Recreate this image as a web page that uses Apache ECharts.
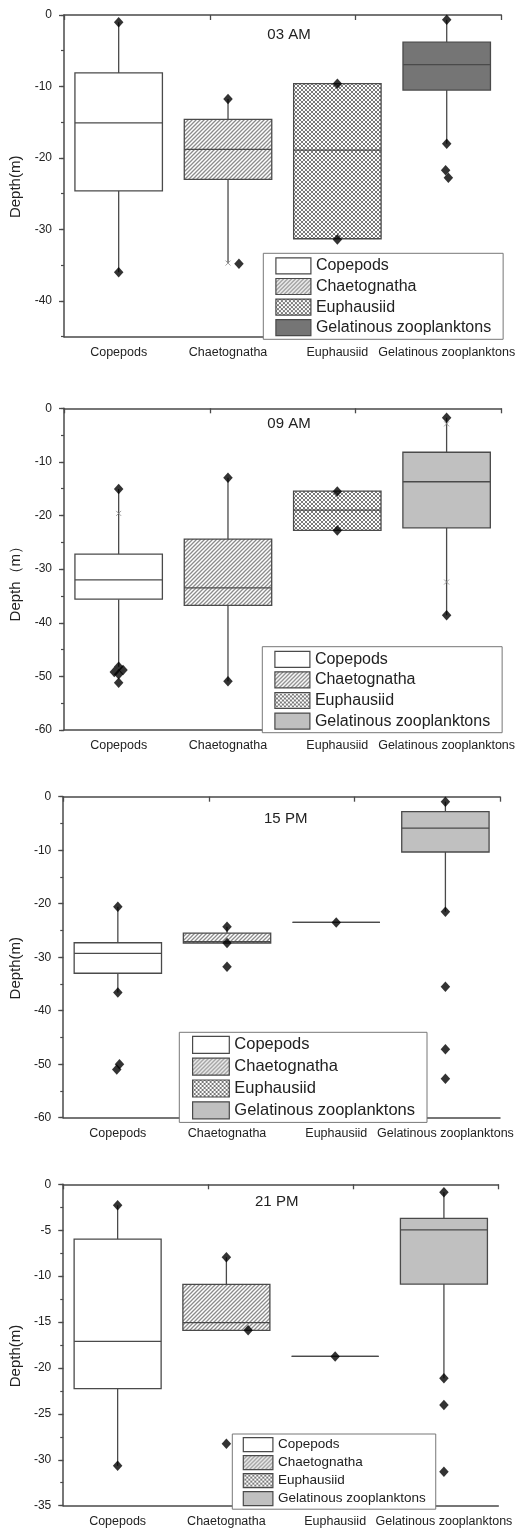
<!DOCTYPE html>
<html>
<head>
<meta charset="utf-8">
<script src="https://cdn.jsdelivr.net/npm/echarts@6/dist/echarts.min.js"></script>
<style>
  html, body { margin: 0; padding: 0; background: #fff; }
  #chart { width: 518px; height: 1531px; }
</style>
</head>
<body>
<div id="chart"></div>
<script>
const categories = ['Copepods', 'Chaetognatha', 'Euphausiid', 'Gelatinous zooplanktons'];
const panelTitles = ['03 AM', '09 AM', '15 PM', '21 PM'];
const yNames = ['Depth(m)', 'Depth\uff08m\uff09', 'Depth(m)', 'Depth(m)'];
const yMin = [-45, -60, -60, -35];
const yMinorStep = [5, 5, 5, 2.5];

// labelled y ticks for each panel
const yTicks03 = [0, -10, -20, -30, -40];
const yTicks09 = [0, -10, -20, -30, -40, -50, -60];
const yTicks15 = [0, -10, -20, -30, -40, -50, -60];
const yTicks21 = [0, -5, -10, -15, -20, -25, -30, -35];

// [lower whisker, Q1, median, Q3, upper whisker] for each category
const box03 = [
  [-36.0, -24.6, -15.1, -8.1, -1.0],
  [-34.7, -23.0, -18.8, -14.6, -11.75],
  [-31.3, -31.3, -18.9, -9.6, -9.6],
  [-18.0, -10.5, -6.95, -3.8, -0.65]
];
const box09 = [
  [-48.2, -35.6, -32.0, -27.2, -15.05],
  [-50.9, -36.75, -33.5, -24.4, -12.95],
  [-22.75, -22.75, -19.0, -15.45, -15.45],
  [-38.6, -22.3, -13.7, -8.2, -1.75]
];
const box15 = [
  [-36.6, -33.0, -29.3, -27.3, -20.56],
  [-27.35, -27.35, -27.1, -25.5, -24.3],
  [-23.5, -23.5, -23.5, -23.5, -23.5],
  [-21.5, -10.34, -5.86, -2.8, -0.93]
];
const box21 = [
  [-30.65, -22.26, -17.1, -5.96, -2.29],
  [-15.9, -15.9, -15.07, -10.9, -7.95],
  [-18.74, -18.74, -18.74, -18.74, -18.74],
  [-21.13, -10.86, -4.97, -3.7, -0.87]
];

// diamond markers (min / max / outliers): [category position, depth]
const dots03 = [[0, -1.0], [0, -36.0], [1, -11.75], [1.1, -34.8], [2, -9.6], [2, -31.4],
  [3, -0.65], [3, -18.0], [2.99, -21.7], [3.015, -22.75]];
const dots09 = [[0, -15.05], [0, -48.2], [-0.04, -49.2], [0.04, -48.8], [0, -49.6], [0, -51.2],
  [1, -12.95], [1, -50.9], [2, -15.5], [2, -22.8], [3, -1.75], [3, -38.6]];
const dots15 = [[0, -20.56], [0, -36.6], [0.015, -50.0], [-0.01, -51.0], [1, -24.3], [1, -27.35],
  [1, -31.8], [2, -23.5], [3, -0.93], [3, -21.5], [3, -35.5], [3, -47.2], [3, -52.7]];
const dots21 = [[0, -2.29], [0, -30.65], [1, -7.95], [1.2, -15.9], [1, -28.25], [2, -18.74],
  [3, -0.87], [3, -21.13], [3, -24.04], [3, -31.3]];

// small grey percentile crosses
const cross03 = [[1, -34.7]];
const cross09 = [[0, -19.6], [3, -2.9], [3, -32.4]];
const cross15 = [];
const cross21 = [];

const yTicks = [yTicks03, yTicks09, yTicks15, yTicks21];
const boxes = [box03, box09, box15, box21];
const dots = [dots03, dots09, dots15, dots21];
const crosses = [cross03, cross09, cross15, cross21];

// layout (pixels)
const grids = [
  { left: 64, top: 15, width: 438.7, height: 321.7 },
  { left: 64, top: 408.3, width: 437.7, height: 321.7 },
  { left: 61.7, top: 796.7, width: 438.3, height: 321 },
  { left: 61, top: 1184.3, width: 437.3, height: 321.4 }
];
const titlePos = [[289, 34.7], [289, 424.3], [285.7, 819.3], [276.7, 1201.7]];
const legendBoxes = [
  { left: 263.3, top: 253.3, font: 16, w: 35, h: 16, gap: 3.4, pad: [4, 12, 3, 12] },
  { left: 262.3, top: 646.7, font: 16, w: 35, h: 16, gap: 3.4, pad: [4, 12, 3, 12] },
  { left: 179.3, top: 1032.3, font: 16.5, w: 36.7, h: 17, gap: 3.6, pad: [3.5, 12, 3, 12.7] },
  { left: 232.3, top: 1434, font: 13.5, w: 29.6, h: 14, gap: 2.8, pad: [3, 10, 3, 10.4] }
];
const gelFill = ['#757575', '#c0c0c0', '#c0c0c0', '#c0c0c0'];

const FONT = '"Liberation Sans", Arial, sans-serif';
const INK = '#4a4a4a';

function makePattern(draw) {
  const c = document.createElement('canvas');
  c.width = 4; c.height = 4;
  const ctx = c.getContext('2d');
  ctx.fillStyle = '#fff';
  ctx.fillRect(0, 0, 4, 4);
  draw(ctx);
  return { image: c, repeat: 'repeat' };
}
const hatch = makePattern(ctx => {
  ctx.strokeStyle = '#8c8c8c';
  ctx.lineWidth = 1.3;
  ctx.beginPath();
  ctx.moveTo(-1, 5); ctx.lineTo(5, -1);
  ctx.moveTo(-1, 1); ctx.lineTo(1, -1);
  ctx.moveTo(3, 5); ctx.lineTo(5, 3);
  ctx.stroke();
});
const checker = makePattern(ctx => {
  ctx.strokeStyle = '#7a7a7a';
  ctx.lineWidth = 1;
  ctx.beginPath();
  ctx.moveTo(-1, 5); ctx.lineTo(5, -1);
  ctx.moveTo(-1, -1); ctx.lineTo(5, 5);
  ctx.moveTo(-1, 1); ctx.lineTo(1, -1);
  ctx.moveTo(3, 5); ctx.lineTo(5, 3);
  ctx.moveTo(3, -1); ctx.lineTo(5, 1);
  ctx.moveTo(-1, 3); ctx.lineTo(1, 5);
  ctx.stroke();
});

function renderBox(fill) {
  return function (params, api) {
    const c = api.value(0);
    const pLow = api.coord([c, api.value(1)]);
    const pQ1 = api.coord([c, api.value(2)]);
    const pMed = api.coord([c, api.value(3)]);
    const pQ3 = api.coord([c, api.value(4)]);
    const pHigh = api.coord([c, api.value(5)]);
    const w = api.size([1, 0])[0] * 0.8;
    const x0 = pMed[0] - w / 2;
    const line = { stroke: INK, lineWidth: 1.3 };
    return {
      type: 'group',
      children: [
        { type: 'line', shape: { x1: pMed[0], y1: pQ1[1], x2: pMed[0], y2: pLow[1] }, style: line },
        { type: 'line', shape: { x1: pMed[0], y1: pQ3[1], x2: pMed[0], y2: pHigh[1] }, style: line },
        { type: 'rect', shape: { x: x0, y: pQ3[1], width: w, height: pQ1[1] - pQ3[1] },
          style: { fill: fill, stroke: INK, lineWidth: 1.3 } },
        { type: 'line', shape: { x1: x0, y1: pMed[1], x2: x0 + w, y2: pMed[1] }, style: line }
      ]
    };
  };
}

const axisLine = { onZero: false, lineStyle: { color: INK, width: 1.5 } };
const option = {
  animation: false,
  backgroundColor: '#fff',
  grid: [], xAxis: [], yAxis: [], series: [], legend: [], graphic: []
};

for (let p = 0; p < 4; p++) {
  const fills = ['#fff', hatch, checker, gelFill[p]];
  option.grid.push(Object.assign({ containLabel: false }, grids[p]));

  option.xAxis.push({
    type: 'category', gridIndex: p, data: categories, position: 'bottom',
    axisLine: axisLine,
    axisTick: { alignWithLabel: true, length: 5, lineStyle: { color: INK, width: 1.3 } },
    axisLabel: { interval: 0, margin: 9, fontSize: 12.5, color: '#222', fontFamily: FONT },
    splitLine: { show: false }
  });
  option.xAxis.push({
    type: 'value', gridIndex: p, position: 'top', min: 0, max: 3, interval: 1,
    axisLine: axisLine,
    axisTick: { inside: true, length: 5, lineStyle: { color: INK, width: 1.3 } },
    axisLabel: { show: false }, splitLine: { show: false }
  });
  option.xAxis.push({
    type: 'value', gridIndex: p, min: -0.5, max: 3.5, show: false
  });

  // main y axis: labels and long ticks
  option.yAxis.push({
    type: 'value', gridIndex: p, position: 'left', min: yMin[p], max: 0, interval: yMinorStep[p],
    name: yNames[p], nameLocation: 'middle', nameGap: 38,
    nameTextStyle: { fontSize: 15, color: '#222', fontFamily: FONT, padding: [0, 22, 0, 0] },
    axisLine: { show: true, onZero: false, lineStyle: { color: INK, width: 1.5 } },
    axisTick: { show: true, length: 5, customValues: yTicks[p], lineStyle: { color: INK, width: 1.3 } },
    axisLabel: { margin: 12, fontSize: 12, color: '#222', fontFamily: FONT, customValues: yTicks[p] },
    splitLine: { show: false }
  });
  // helper y axis: short minor ticks
  option.yAxis.push({
    type: 'value', gridIndex: p, position: 'left', offset: 0, min: yMin[p], max: 0, interval: yMinorStep[p],
    axisLine: { show: false, onZero: false },
    axisTick: { show: true, length: 3, lineStyle: { color: INK, width: 1.2 } },
    axisLabel: { show: false }, splitLine: { show: false }
  });

  categories.forEach((name, i) => {
    option.series.push({
      type: 'custom', name: name,
      xAxisIndex: p * 3, yAxisIndex: p * 2,
      itemStyle: { color: fills[i], borderColor: INK, borderWidth: 1.2 },
      encode: { x: 0, y: [1, 2, 3, 4, 5] },
      renderItem: renderBox(fills[i]),
      data: [[i].concat(boxes[p][i])],
      z: 2
    });
  });

  option.series.push({
    type: 'scatter', name: 'markers',
    xAxisIndex: p * 3 + 2, yAxisIndex: p * 2,
    symbol: 'diamond', symbolSize: [9.5, 10.5],
    itemStyle: { color: '#000' },
    data: dots[p], z: 5, silent: true
  });
  option.series.push({
    type: 'scatter', name: 'percentiles',
    xAxisIndex: p * 3 + 2, yAxisIndex: p * 2,
    symbol: 'path://M0,0L8,8M8,0L0,8', symbolSize: 5,
    itemStyle: { color: 'transparent', borderColor: '#888', borderWidth: 1 },
    data: crosses[p], z: 4, silent: true
  });

  const lg = legendBoxes[p];
  option.legend.push({
    orient: 'vertical', left: lg.left, top: lg.top,
    padding: lg.pad, itemGap: lg.gap, itemWidth: lg.w, itemHeight: lg.h,
    icon: 'rect', selectedMode: false,
    borderColor: '#777', borderWidth: 1, backgroundColor: '#fff',
    textStyle: { fontSize: lg.font, color: '#222', fontFamily: FONT },
    data: categories.map((name, i) => ({
      name: name,
      itemStyle: { color: fills[i], borderColor: INK, borderWidth: 1.2 }
    }))
  });

  option.graphic.push({
    type: 'text', x: titlePos[p][0], y: titlePos[p][1], z: 10,
    style: { text: panelTitles[p], fill: '#222', font: '15px ' + FONT, align: 'center', verticalAlign: 'middle' }
  });
}

const chart = echarts.init(document.getElementById('chart'), null, { renderer: 'canvas' });
chart.setOption(option);
</script>
</body>
</html>
